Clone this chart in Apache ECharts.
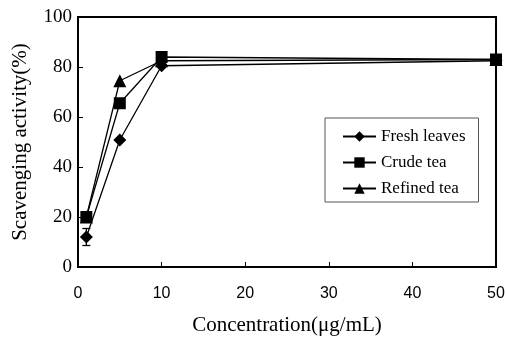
<!DOCTYPE html>
<html>
<head>
<meta charset="utf-8">
<script src="https://cdn.jsdelivr.net/npm/echarts@6/dist/echarts.min.js"></script>
<style>
html,body{margin:0;padding:0;background:#fff;}
#chart{width:507px;height:338px;}
</style>
</head>
<body>
<div id="chart"></div>
<script>
var concentration = [1, 5, 10, 50];
var freshLeaves = [12, 50.8, 80.5, 82.5];
var freshErr = [3.4, 0, 0, 0];
var crudeTea = [20, 65.5, 84, 83];
var refinedTea = [20, 74.5, 82.5, 83];
var xTicks = [0, 10, 20, 30, 40, 50];
var yTicks = [0, 20, 40, 60, 80, 100];

function pairs(ys) {
    var out = [];
    for (var i = 0; i < concentration.length; i++) {
        out.push([concentration[i], ys[i]]);
    }
    return out;
}

var errData = [];
for (var i = 0; i < concentration.length; i++) {
    if (freshErr[i] > 0) {
        errData.push([concentration[i], freshLeaves[i] - freshErr[i], freshLeaves[i] + freshErr[i]]);
    }
}

var chart = echarts.init(document.getElementById('chart'));
var serif = 'Liberation Serif';
var lineStyle = { color: '#000', width: 1.3 };

var option = {
    animation: false,
    backgroundColor: '#fff',
    grid: {
        left: 78, right: 11, top: 17, bottom: 71,
        containLabel: false,
        outerBoundsMode: 'none',
        show: true, borderColor: '#000', borderWidth: 2
    },
    legend: {
        orient: 'vertical',
        left: 325, top: 118,
        padding: [10, 13, 5, 17],
        itemGap: 9,
        itemWidth: 33, itemHeight: 13,
        itemTextGap: 4,
        borderColor: '#555', borderWidth: 1,
        backgroundColor: '#fff',
        textStyle: { fontFamily: serif, fontSize: 17, lineHeight: 17, color: '#000' },
        data: ['Fresh leaves', 'Crude tea', 'Refined tea']
    },
    xAxis: {
        type: 'value',
        min: xTicks[0], max: xTicks[xTicks.length - 1], interval: 10,
        name: 'Concentration(\u03bcg/mL)',
        nameLocation: 'middle', nameGap: 48,
        nameTextStyle: { fontFamily: serif, fontSize: 21, color: '#000' },
        axisLine: { lineStyle: { color: '#000', width: 2 } },
        axisTick: { inside: true, length: 5, lineStyle: { color: '#000' } },
        axisLabel: { fontFamily: 'Liberation Sans', fontSize: 16, color: '#000', margin: 19 },
        splitLine: { show: false }
    },
    yAxis: {
        type: 'value',
        min: yTicks[0], max: yTicks[yTicks.length - 1], interval: 20,
        name: 'Scavenging activity(%)',
        nameLocation: 'middle', nameGap: 47,
        nameTextStyle: { fontFamily: serif, fontSize: 21, color: '#000' },
        axisLine: { lineStyle: { color: '#000', width: 2 } },
        axisTick: { inside: true, length: 5, lineStyle: { color: '#000' } },
        axisLabel: { fontFamily: serif, fontSize: 19, color: '#000', margin: 6 },
        splitLine: { show: false }
    },
    series: [
        {
            name: 'Fresh leaves', type: 'line', data: pairs(freshLeaves),
            symbol: 'diamond', symbolSize: 13,
            itemStyle: { color: '#000' }, lineStyle: lineStyle, z: 3
        },
        {
            name: 'Crude tea', type: 'line', data: pairs(crudeTea),
            symbol: 'rect', symbolSize: 12,
            itemStyle: { color: '#000' }, lineStyle: lineStyle, z: 3
        },
        {
            name: 'Refined tea', type: 'line', data: pairs(refinedTea),
            symbol: 'triangle', symbolSize: 13,
            itemStyle: { color: '#000' }, lineStyle: lineStyle, z: 3
        },
        {
            type: 'custom', data: errData, z: 2,
            renderItem: function (params, api) {
                var lo = api.coord([api.value(0), api.value(1)]);
                var hi = api.coord([api.value(0), api.value(2)]);
                var w = 4;
                var st = { stroke: '#000', lineWidth: 1.3 };
                return {
                    type: 'group',
                    children: [
                        { type: 'line', shape: { x1: lo[0], y1: lo[1], x2: hi[0], y2: hi[1] }, style: st },
                        { type: 'line', shape: { x1: lo[0] - w, y1: lo[1], x2: lo[0] + w, y2: lo[1] }, style: st },
                        { type: 'line', shape: { x1: hi[0] - w, y1: hi[1], x2: hi[0] + w, y2: hi[1] }, style: st }
                    ]
                };
            }
        }
    ]
};
chart.setOption(option);
</script>
</body>
</html>
